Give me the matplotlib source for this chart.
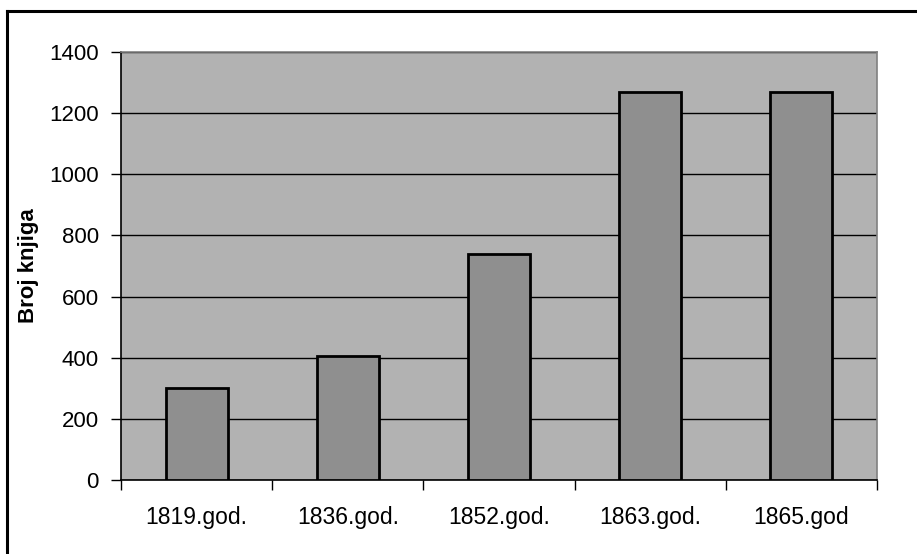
import numpy as np
import matplotlib.pyplot as plt
from matplotlib.lines import Line2D

plt.rcParams['font.family'] = ['Liberation Sans', 'DejaVu Sans']

years = ["1819.god.", "1836.god.", "1852.god.", "1863.god.", "1865.god"]
books = [300, 405, 738, 1268, 1268]

fig = plt.figure(figsize=(9.17, 5.54), dpi=100)
ax = fig.add_axes([0.132, 0.1336, 0.8244, 0.7725])

x = np.arange(len(years))
ax.set_facecolor("#b2b2b2")
ax.bar(x, books, width=0.41, color="#8f8f8f", edgecolor="black", linewidth=2.0, zorder=3)

ax.set_xlim(-0.5, len(years) - 0.5)
ax.set_ylim(0, 1400)
ax.set_yticks(np.arange(0, 1401, 200))
ax.grid(axis='y', color='black', linewidth=1.0, zorder=1)

ax.set_xticks(x)
ax.set_xticklabels(years, fontsize=16.5)
ax.set_xticks(np.arange(-0.5, len(years)), minor=True)
ax.tick_params(axis='x', which='major', length=0, pad=19)
ax.tick_params(axis='x', which='minor', length=7, width=1, direction='out')
ax.tick_params(axis='y', length=7, width=1, direction='out', labelsize=16, pad=9)

for s in ['top', 'right']:
    ax.spines[s].set_color('#808080')
    ax.spines[s].set_linewidth(1.2)
for s in ['left', 'bottom']:
    ax.spines[s].set_color('black')
    ax.spines[s].set_linewidth(1.2)

ax.set_ylabel("Broj knjiga", fontsize=16, fontweight='bold')
ax.yaxis.set_label_coords(-0.108, 0.5)

# frame of the chart object (only top and left edges are in the crop)
fig.add_artist(Line2D([7 / 917, 7 / 917], [0, 1 - 11 / 554], color='black', linewidth=2.2))
fig.add_artist(Line2D([7 / 917, 1], [1 - 11 / 554, 1 - 11 / 554], color='black', linewidth=2.2))

plt.savefig('out.png', dpi=100)
